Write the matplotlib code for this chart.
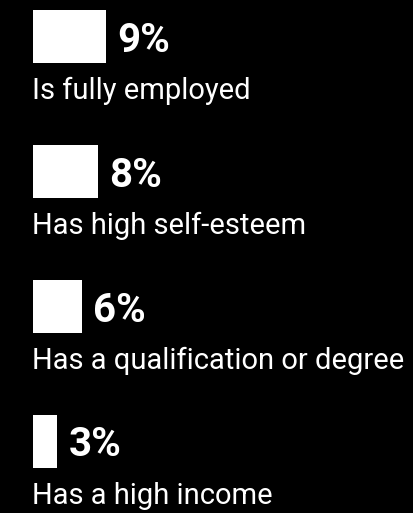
import numpy as np
import matplotlib.pyplot as plt

# Share of respondents by outcome
categories = ["Is fully employed", "Has high self-esteem",
              "Has a qualification or degree", "Has a high income"]
values = [9, 8, 6, 3]

plt.rcParams['font.family'] = ['Roboto', 'DejaVu Sans']

fig = plt.figure(figsize=(4.14, 5.13), dpi=100, facecolor='black')
ax = fig.add_axes([0, 0, 1, 1], facecolor='black')

y = np.arange(len(values))
ax.barh(y, values, height=0.39, color='white')

for i, (v, name) in enumerate(zip(values, categories)):
    ax.text(v + 1.45, i + 0.03, f"{v}%", color='white', fontsize=29,
            fontweight='bold', va='center', ha='left')
    ax.text(-0.15, i + 0.463, name, color='white', fontsize=21,
            va='baseline', ha='left')

ax.set_xlim(-33 / 8.1, (414 - 33) / 8.1)
ax.set_ylim(3.53, -0.27)
ax.axis('off')

fig.savefig("out.png", dpi=100, facecolor='black')
